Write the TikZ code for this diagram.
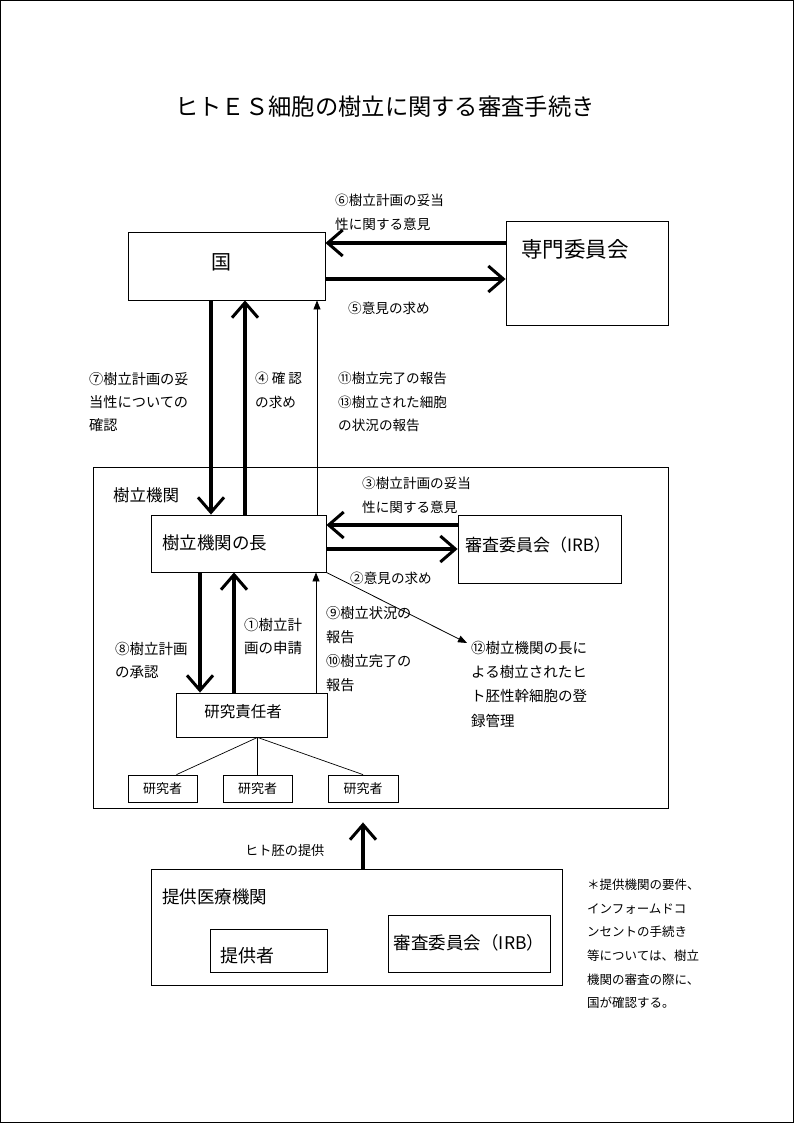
\documentclass[tikz,border=0pt]{standalone}
\usepackage{fontspec}
\setmainfont{Noto Sans CJK JP}
\usetikzlibrary{arrows.meta,calc}
\begin{document}
\begin{tikzpicture}[x=1pt,y=-1pt,
  box/.style={draw,line width=0.8pt,inner sep=0pt},
  lbl/.style={font=\fontsize{13.6}{23.5}\selectfont,anchor=west,align=left,inner sep=0pt},
  big/.style={line width=4.5pt,-{Straight Barb[length=15pt,width=26pt,line width=3pt]}},
  thinarr/.style={line width=0.8pt,-{Triangle[length=9pt,width=7pt]}},
  plain/.style={line width=0.7pt}]
\useasboundingbox (0,0) rectangle (794,1123);
\draw[line width=1pt] (0.5,0.5) rectangle (793.5,1122.5);
% title
\node[inner sep=0pt,font=\fontsize{23.3}{26}\selectfont] (title) at (385,107) {ヒトＥＳ細胞の樹立に関する審査手続き};
% top boxes
\node[box,minimum width=197pt,minimum height=68pt] (kuni) at (226.5,266) {};
\node[inner sep=0pt,font=\fontsize{20}{24}\selectfont] (kunit) at (221,262) {国};
\node[box,minimum width=162pt,minimum height=104pt] (senmon) at (587,273) {};
\node[inner sep=0pt,font=\fontsize{21.5}{24}\selectfont] (senmont) at (575,249) {専門委員会};
\coordinate (y6) at (0,243);
\coordinate (y5) at (0,279);
\draw[big] (senmon.west |- y6) -- (kuni.east |- y6);
\draw[big] (kuni.east |- y5) -- (senmon.west |- y5);
\node[lbl] (l6) at (335,212.5) {⑥樹立計画の妥当\\性に関する意見};
\node[lbl] (l5) at (348,308) {⑤意見の求め};
% institution
\node[box,minimum width=575pt,minimum height=341pt] (inst) at (380.5,637.5) {};
\node[inner sep=0pt,anchor=west,font=\fontsize{16.5}{20}\selectfont] (instt) at (113,495) {樹立機関};
\node[box,minimum width=175pt,minimum height=57pt] (cho) at (238.5,543.5) {};
\node[inner sep=0pt,anchor=west,font=\fontsize{17.5}{20}\selectfont] (chot) at (162,543) {樹立機関の長};
\node[box,minimum width=163pt,minimum height=68pt] (irb) at (539.5,549) {};
\node[inner sep=0pt,font=\fontsize{17}{20}\selectfont] (irbt) at (538,545) {審査委員会（IRB）};
% vertical arrows kuni - cho
\coordinate (x7) at (211,0);
\coordinate (x4) at (245,0);
\coordinate (x11) at (317,0);
\draw[big] (kuni.south -| x7) -- (cho.north -| x7);
\draw[big] (cho.north -| x4) -- (kuni.south -| x4);
\draw[thinarr] (cho.north -| x11) -- (kuni.south -| x11);
\node[lbl,font=\fontsize{14.2}{23.3}\selectfont] (l7) at (89,402) {⑦樹立計画の妥\\当性についての\\確認};
\node[lbl] (l4) at (255,390.5) {④ 確 認\\の求め};
\node[lbl] (l11) at (338,402) {⑪樹立完了の報告\\⑬樹立された細胞\\の状況の報告};
% cho - irb
\coordinate (y3) at (0,525);
\coordinate (y2) at (0,549);
\draw[big] (irb.west |- y3) -- (cho.east |- y3);
\draw[big] (cho.east |- y2) -- (irb.west |- y2);
\node[lbl] (l3) at (362,495.5) {③樹立計画の妥当\\性に関する意見};
\node[lbl] (l2) at (350,578) {②意見の求め};
% registration
\coordinate (reg) at (467,643);
\draw[thinarr] (cho.south east) -- (reg);
\node[lbl,font=\fontsize{14.5}{24.3}\selectfont] (l12) at (471,684) {⑫樹立機関の長に\\よる樹立されたヒ\\ト胚性幹細胞の登\\録管理};
% researcher in charge
\node[box,minimum width=151pt,minimum height=44pt] (seki) at (251.5,715) {};
\node[inner sep=0pt,font=\fontsize{15.5}{20}\selectfont] (sekit) at (243,712) {研究責任者};
\coordinate (x8) at (200,0);
\coordinate (x1) at (234,0);
\coordinate (x9) at (316,0);
\draw[big] (cho.south -| x8) -- (seki.north -| x8);
\draw[big] (seki.north -| x1) -- (cho.south -| x1);
\draw[thinarr] (seki.north -| x9) -- (cho.south -| x9);
\node[lbl,font=\fontsize{14.5}{23.3}\selectfont] (l1) at (244,636.5) {①樹立計\\画の申請};
\node[lbl,font=\fontsize{14.5}{23.3}\selectfont] (l8) at (115,660.5) {⑧樹立計画\\の承認};
\node[lbl,font=\fontsize{14.2}{24}\selectfont] (l9) at (326,649) {⑨樹立状況の\\報告\\⑩樹立完了の\\報告};
% researchers
\node[box,minimum width=69pt,minimum height=27pt,font=\fontsize{13}{16}\selectfont] (r1) at (162.5,788.5) {研究者};
\node[box,minimum width=69pt,minimum height=27pt,font=\fontsize{13}{16}\selectfont] (r2) at (257.5,788.5) {研究者};
\node[box,minimum width=70pt,minimum height=27pt,font=\fontsize{13}{16}\selectfont] (r3) at (363,788.5) {研究者};
\coordinate (hub) at (seki.south -| r2.north);
\draw[plain] (hub) -- ([xshift=14pt]r1.north);
\draw[plain] (hub) -- (r2.north);
\draw[plain] (hub) -- (r3.north);
% providing institution
\node[box,minimum width=411pt,minimum height=116pt] (teikyo) at (356.5,927) {};
\coordinate (tip) at ($(inst.south -| r3.south)+(0,14)$);
\draw[big] (teikyo.north -| r3.south) -- (tip);
\node[lbl,font=\fontsize{13.2}{23}\selectfont] (lemb) at (245,850) {ヒト胚の提供};
\node[inner sep=0pt,anchor=west,font=\fontsize{17.5}{20}\selectfont] (teikyot) at (162,897) {提供医療機関};
\node[box,minimum width=117pt,minimum height=43pt] (donor) at (268.5,950.5) {};
\node[inner sep=0pt,anchor=west,font=\fontsize{18}{20}\selectfont] (donort) at (220,956) {提供者};
\node[box,minimum width=162pt,minimum height=57pt] (irb2) at (469,943.5) {};
\node[inner sep=0pt,font=\fontsize{17.5}{20}\selectfont] (irb2t) at (469,943) {審査委員会（IRB）};
% note
\node[lbl,font=\fontsize{12.5}{23.6}\selectfont] (note) at (587,944) {＊提供機関の要件、\\インフォームドコ\\ンセントの手続き\\等については、樹立\\機関の審査の際に、\\国が確認する。};
\end{tikzpicture}
\end{document}
